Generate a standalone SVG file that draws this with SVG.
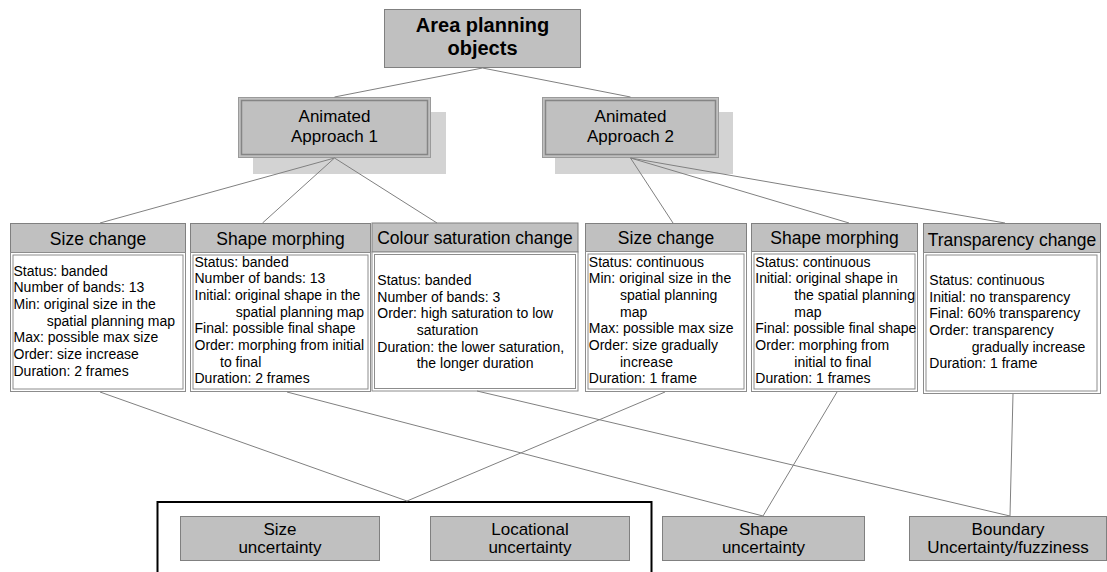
<svg xmlns="http://www.w3.org/2000/svg" width="1107" height="572" viewBox="0 0 1107 572">
<style>
text{font-family:"Liberation Sans",Arial,sans-serif;fill:#000}
.box{fill:#c0c0c0;stroke:#808080;stroke-width:1}
.shadow{fill:#d3d3d3;stroke:none}
.dbl-o{fill:#c0c0c0;stroke:#9a9a9a;stroke-width:1}
.dbl-i{fill:none;stroke:#858585;stroke-width:1.5}
.body-o{fill:#fff;stroke:#8c8c8c;stroke-width:1}
.body-i{fill:none;stroke:#8c8c8c;stroke-width:1}
.hdr{font-size:17.5px;text-anchor:middle}
.bt{font-size:14px}
.n17{font-size:17px;text-anchor:middle}
.conn{stroke:#808080;stroke-width:1;fill:none}
</style>
<rect width="1107" height="572" fill="#fff"/>
<g id="shadows">
<rect class="shadow" x="253" y="112" width="193" height="62"/>
<rect class="shadow" x="555" y="112" width="178" height="62"/>
</g>
<g id="root">
<rect class="box" x="384.5" y="9.5" width="196" height="58"/>
<text x="482.5" y="32" font-size="20" font-weight="bold" text-anchor="middle">Area planning</text>
<text x="482.5" y="55" font-size="20" font-weight="bold" text-anchor="middle">objects</text>
</g>
<g id="approach1">
<rect class="dbl-o" x="238.5" y="97.5" width="192" height="60"/>
<rect class="dbl-i" x="241.5" y="100.5" width="186" height="54"/>
<text class="n17" x="334.5" y="121.5">Animated</text>
<text class="n17" x="334.5" y="142">Approach 1</text>
</g>
<g id="approach2">
<rect class="dbl-o" x="542.5" y="97.5" width="176" height="60"/>
<rect class="dbl-i" x="545.5" y="100.5" width="170" height="54"/>
<text class="n17" x="630.5" y="121.5">Animated</text>
<text class="n17" x="630.5" y="142">Approach 2</text>
</g>
<g id="size-change-1">
<rect class="box" x="10.5" y="223.5" width="175" height="29"/>
<text class="hdr" x="98" y="245">Size change</text>
<rect class="body-o" x="10.5" y="252.5" width="175" height="139"/>
<rect class="body-i" x="13" y="255" width="170" height="134"/>
<text class="bt" x="13.5" y="275.7">Status: banded</text>
<text class="bt" x="13.5" y="292.3">Number of bands: 13</text>
<text class="bt" x="13.5" y="309">Min: original size in the</text>
<text class="bt" x="46.7" y="325.7">spatial planning map</text>
<text class="bt" x="13.5" y="342.3">Max: possible max size</text>
<text class="bt" x="13.5" y="359">Order: size increase</text>
<text class="bt" x="13.5" y="375.7">Duration: 2 frames</text>
</g>
<g id="shape-morphing-1">
<rect class="box" x="190.5" y="223.5" width="180" height="29"/>
<text class="hdr" x="280.5" y="244.5">Shape morphing</text>
<rect class="body-o" x="190.5" y="252.5" width="180" height="139"/>
<rect class="body-i" x="193" y="255" width="175" height="134"/>
<text class="bt" x="194.5" y="266.7">Status: banded</text>
<text class="bt" x="194.5" y="283.3">Number of bands: 13</text>
<text class="bt" x="194.5" y="300">Initial: original shape in the</text>
<text class="bt" x="235.7" y="316.7">spatial planning map</text>
<text class="bt" x="194.5" y="333.3">Final: possible final shape</text>
<text class="bt" x="194.5" y="350">Order: morphing from initial</text>
<text class="bt" x="220" y="366.7">to final</text>
<text class="bt" x="194.5" y="383.3">Duration: 2 frames</text>
</g>
<g id="colour-saturation">
<rect class="box" x="372" y="223" width="206" height="29"/>
<text class="hdr" x="475" y="243.5">Colour saturation change</text>
<rect class="body-o" x="372" y="252" width="206" height="139"/>
<rect class="body-i" x="374.5" y="254.5" width="201" height="134"/>
<text class="bt" x="377.3" y="285">Status: banded</text>
<text class="bt" x="377.3" y="301.7">Number of bands: 3</text>
<text class="bt" x="377.3" y="318.3">Order: high saturation to low</text>
<text class="bt" x="416.7" y="335">saturation</text>
<text class="bt" x="377.3" y="351.7">Duration: the lower saturation,</text>
<text class="bt" x="416.7" y="368.3">the longer duration</text>
</g>
<g id="size-change-2">
<rect class="box" x="585.5" y="223.5" width="161" height="28"/>
<text class="hdr" x="666" y="243.5">Size change</text>
<rect class="body-o" x="585.5" y="251.5" width="161" height="140"/>
<rect class="body-i" x="588" y="254" width="156" height="135"/>
<text class="bt" x="588.8" y="266.7">Status: continuous</text>
<text class="bt" x="588.8" y="283.3">Min: original size in the</text>
<text class="bt" x="620" y="300">spatial planning</text>
<text class="bt" x="620" y="316.7">map</text>
<text class="bt" x="588.8" y="333.3">Max: possible max size</text>
<text class="bt" x="588.8" y="350">Order: size gradually</text>
<text class="bt" x="620" y="366.7">increase</text>
<text class="bt" x="588.8" y="383.3">Duration: 1 frame</text>
</g>
<g id="shape-morphing-2">
<rect class="box" x="751.5" y="223.5" width="166" height="28"/>
<text class="hdr" x="834.5" y="243.5">Shape morphing</text>
<rect class="body-o" x="751.5" y="251.5" width="166" height="140"/>
<rect class="body-i" x="754" y="254" width="161" height="135"/>
<text class="bt" x="755.3" y="266.7">Status: continuous</text>
<text class="bt" x="755.3" y="283.3">Initial: original shape in</text>
<text class="bt" x="794.3" y="300">the spatial planning</text>
<text class="bt" x="794.3" y="316.7">map</text>
<text class="bt" x="755.3" y="333.3">Final: possible final shape</text>
<text class="bt" x="755.3" y="350">Order: morphing from</text>
<text class="bt" x="794.3" y="366.7">initial to final</text>
<text class="bt" x="755.3" y="383.3">Duration: 1 frames</text>
</g>
<g id="transparency-change">
<rect class="box" x="923.5" y="223.5" width="177" height="29"/>
<text class="hdr" x="1012" y="245.5">Transparency change</text>
<rect class="body-o" x="923.5" y="252.5" width="177" height="141"/>
<rect class="body-i" x="926" y="255" width="171" height="136"/>
<text class="bt" x="929.3" y="285">Status: continuous</text>
<text class="bt" x="929.3" y="301.7">Initial: no transparency</text>
<text class="bt" x="929.3" y="318.3">Final: 60% transparency</text>
<text class="bt" x="929.3" y="335">Order: transparency</text>
<text class="bt" x="971.7" y="351.7">gradually increase</text>
<text class="bt" x="929.3" y="368.3">Duration: 1 frame</text>
</g>
<g id="size-locational-group">
<rect x="157.5" y="502" width="494" height="90" fill="none" stroke="#000" stroke-width="2"/>
</g>
<g id="size-uncertainty">
<rect class="box" x="180.5" y="516.5" width="199" height="44"/>
<text class="n17" x="280" y="534.5">Size</text>
<text class="n17" x="280" y="553">uncertainty</text>
</g>
<g id="locational-uncertainty">
<rect class="box" x="430.5" y="516.5" width="199" height="44"/>
<text class="n17" x="530" y="534.5">Locational</text>
<text class="n17" x="530" y="553">uncertainty</text>
</g>
<g id="shape-uncertainty">
<rect class="box" x="662.5" y="516.5" width="202" height="44"/>
<text class="n17" x="763.5" y="534.5">Shape</text>
<text class="n17" x="763.5" y="553">uncertainty</text>
</g>
<g id="boundary-uncertainty">
<rect class="box" x="909.5" y="516.5" width="197" height="44"/>
<text class="n17" x="1008" y="534.5">Boundary</text>
<text class="n17" x="1008" y="553">Uncertainty/fuzziness</text>
</g>
<g id="connectors">
<line class="conn" x1="482.5" y1="68" x2="334.5" y2="97"/>
<line class="conn" x1="482.5" y1="68" x2="630.5" y2="97"/>
<line class="conn" x1="334.5" y1="158" x2="100" y2="223"/>
<line class="conn" x1="334.5" y1="158" x2="262.5" y2="223"/>
<line class="conn" x1="334.5" y1="158" x2="437" y2="223"/>
<line class="conn" x1="630.5" y1="158" x2="673" y2="223"/>
<line class="conn" x1="630.5" y1="158" x2="849" y2="223"/>
<line class="conn" x1="630.5" y1="158" x2="1005" y2="223"/>
<line class="conn" x1="100" y1="392" x2="407" y2="501"/>
<line class="conn" x1="665" y1="392" x2="407" y2="501"/>
<line class="conn" x1="287" y1="392" x2="763" y2="516"/>
<line class="conn" x1="837" y1="392" x2="763" y2="516"/>
<line class="conn" x1="477" y1="391" x2="1010" y2="516"/>
<line class="conn" x1="1013" y1="394" x2="1010" y2="516"/>
</g>
</svg>
